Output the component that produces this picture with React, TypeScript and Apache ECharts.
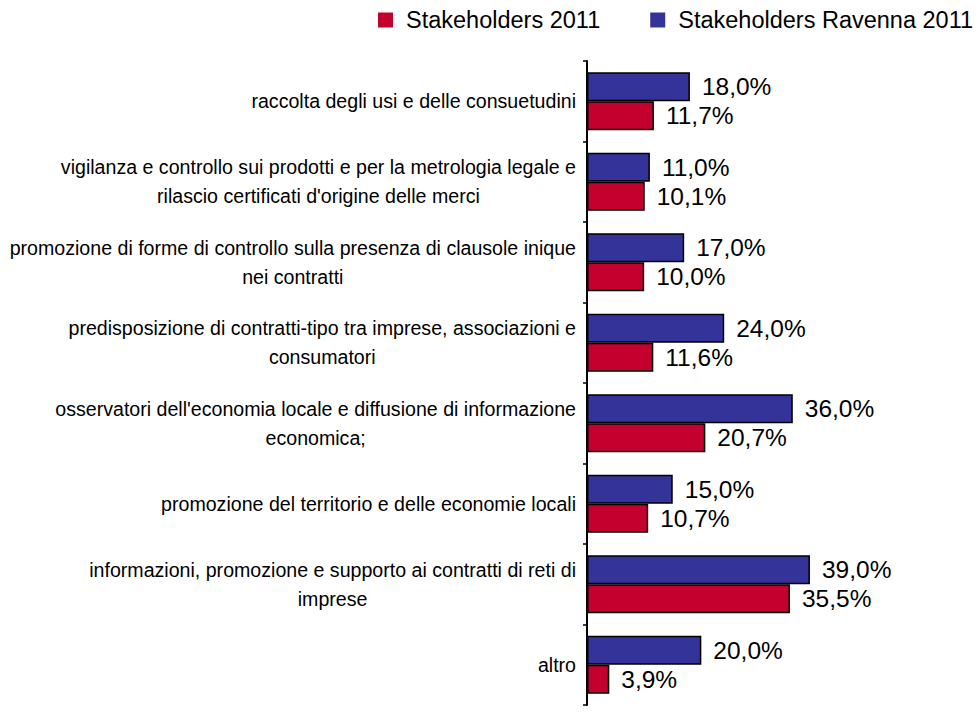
import React, { useEffect, useRef } from "react";
import * as echarts from "echarts";

const categories: string[] = [
  "raccolta degli usi e delle consuetudini",
  "vigilanza e controllo sui prodotti e per la metrologia legale e\nrilascio certificati d'origine delle merci",
  "promozione di forme di controllo sulla presenza di clausole inique\nnei contratti",
  "predisposizione di contratti-tipo tra imprese, associazioni e\nconsumatori",
  "osservatori dell'economia locale e diffusione di informazione\neconomica;",
  "promozione del territorio e delle economie locali",
  "informazioni, promozione e supporto ai contratti di reti di\nimprese",
  "altro",
];

const seriesNames: string[] = ["Stakeholders 2011", "Stakeholders Ravenna 2011"];
const stakeholders2011: number[] = [11.7, 10.1, 10.0, 11.6, 20.7, 10.7, 35.5, 3.9];
const stakeholdersRavenna2011: number[] = [18.0, 11.0, 17.0, 24.0, 36.0, 15.0, 39.0, 20.0];

const FONT = "'Liberation Sans', Arial, sans-serif";
const RED = "#C4002F";
const BLUE = "#333399";

export default function App() {
  const ref = useRef<HTMLDivElement>(null);
  useEffect(() => {
    if (!ref.current) return;
    const chart = echarts.init(ref.current, null, { renderer: "svg" });
    const fmt = (p: any) => p.value.toFixed(1).replace(".", ",") + "%";
    const labelCfg = {
      show: true,
      position: "right",
      distance: 12,
      fontSize: 24.5,
      color: "#000",
      fontFamily: FONT,
      formatter: fmt,
    };
    chart.setOption({
      animation: false,
      backgroundColor: "#fff",
      textStyle: { fontFamily: FONT },
      legend: {
        data: seriesNames,
        left: 373,
        top: 3,
        width: 1000,
        itemWidth: 15,
        itemHeight: 15,
        itemGap: 50,
        icon: "rect",
        itemStyle: { borderWidth: 0 },
        textStyle: { fontSize: 23.5, color: "#000", fontFamily: FONT, padding: [0, 0, 0, 8] },
      },
      grid: { left: 587, top: 61, width: 343, height: 644, containLabel: false },
      xAxis: {
        type: "value",
        min: 0,
        max: 60,
        show: false,
      },
      yAxis: {
        type: "category",
        inverse: true,
        data: categories,
        axisLine: { show: true, lineStyle: { color: "#000", width: 2 } },
        axisTick: { show: true, length: 4, lineStyle: { color: "#000", width: 1.5 } },
        axisLabel: {
          margin: 11,
          fontSize: 19.6,
          color: "#000",
          fontFamily: FONT,
          lineHeight: 29,
          formatter: (v: string) =>
            v
              .split("\n")
              .map((l) => "{c|" + l + "}")
              .join("\n"),
          rich: {
            c: { align: "center", fontSize: 19.6, lineHeight: 29, fontFamily: FONT, color: "#000" },
          },
        },
      },
      series: [
        {
          name: seriesNames[1],
          type: "bar",
          data: stakeholdersRavenna2011,
          barWidth: 29,
          barGap: "0%",
          itemStyle: { color: BLUE, borderColor: "#000", borderWidth: 1.5 },
          label: labelCfg,
        },
        {
          name: seriesNames[0],
          type: "bar",
          data: stakeholders2011,
          barWidth: 29,
          barGap: "0%",
          itemStyle: { color: RED, borderColor: "#000", borderWidth: 1.5 },
          label: labelCfg,
        },
      ],
    });
    return () => chart.dispose();
  }, []);
  return (
    <div
      ref={ref}
      style={{ position: "fixed", left: 0, top: 0, width: 980, height: 714 }}
    />
  );
}
